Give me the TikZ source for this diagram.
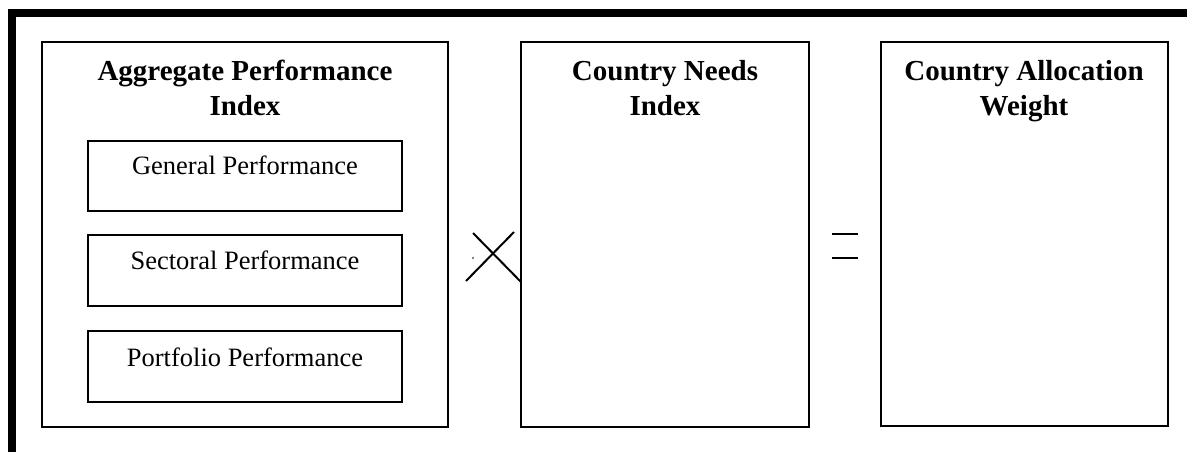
\documentclass[tikz,border=0pt]{standalone}
\usepackage{fontspec}
\setmainfont{Liberation Serif}

\tikzset{
  panel/.style={draw, line width=1pt},
  headtext/.style={font=\fontsize{14.5}{17.5}\selectfont\bfseries, align=center, anchor=base, inner sep=0pt},
  itemtext/.style={font=\fontsize{13.25}{16}\selectfont, anchor=base, inner sep=0pt},
}

\begin{document}
\begin{tikzpicture}[x=0.5pt, y=-0.5pt]

\useasboundingbox (0,0) rectangle (1187,451);
\clip (0,0) rectangle (1187,451);

% heavy frame, top and left only
\draw[line width=4pt] (12,470) -- (12,13) -- (1200,13);

\def\y{42}

% aggregate performance index
\draw[panel] (42,\y) rectangle (448,427);
\node[headtext] (api) at (245,\y + 73) {Aggregate Performance\\Index};

\draw[panel] (88,141) rectangle (402,211);
\draw[panel] (88,235) rectangle (402,306);
\draw[panel] (88,331) rectangle (402,402);
\node[itemtext] (gen) at (245,174) {General Performance};
\node[itemtext] (sec) at (245,269) {Sectoral Performance};
\node[itemtext] (port) at (245,366) {Portfolio Performance};

% times
\draw[line width=1pt] (473,233) -- (521,282);
\draw[line width=1pt] (514,232) -- (466,281);
\fill (473,258) circle (0.8);

% country needs index
\draw[panel] (521,\y) rectangle (809,427);
\node[headtext] (cni) at (665,\y + 73) {Country Needs\\Index};

% equals
\draw[line width=1pt] (832,234) -- (858,234);
\draw[line width=1pt] (832,258) -- (858,258);

% country allocation weight
\draw[panel] (881,\y) rectangle (1168,426);
\node[headtext] (caw) at (1024,\y + 73) {Country Allocation\\Weight};

\end{tikzpicture}
\end{document}
